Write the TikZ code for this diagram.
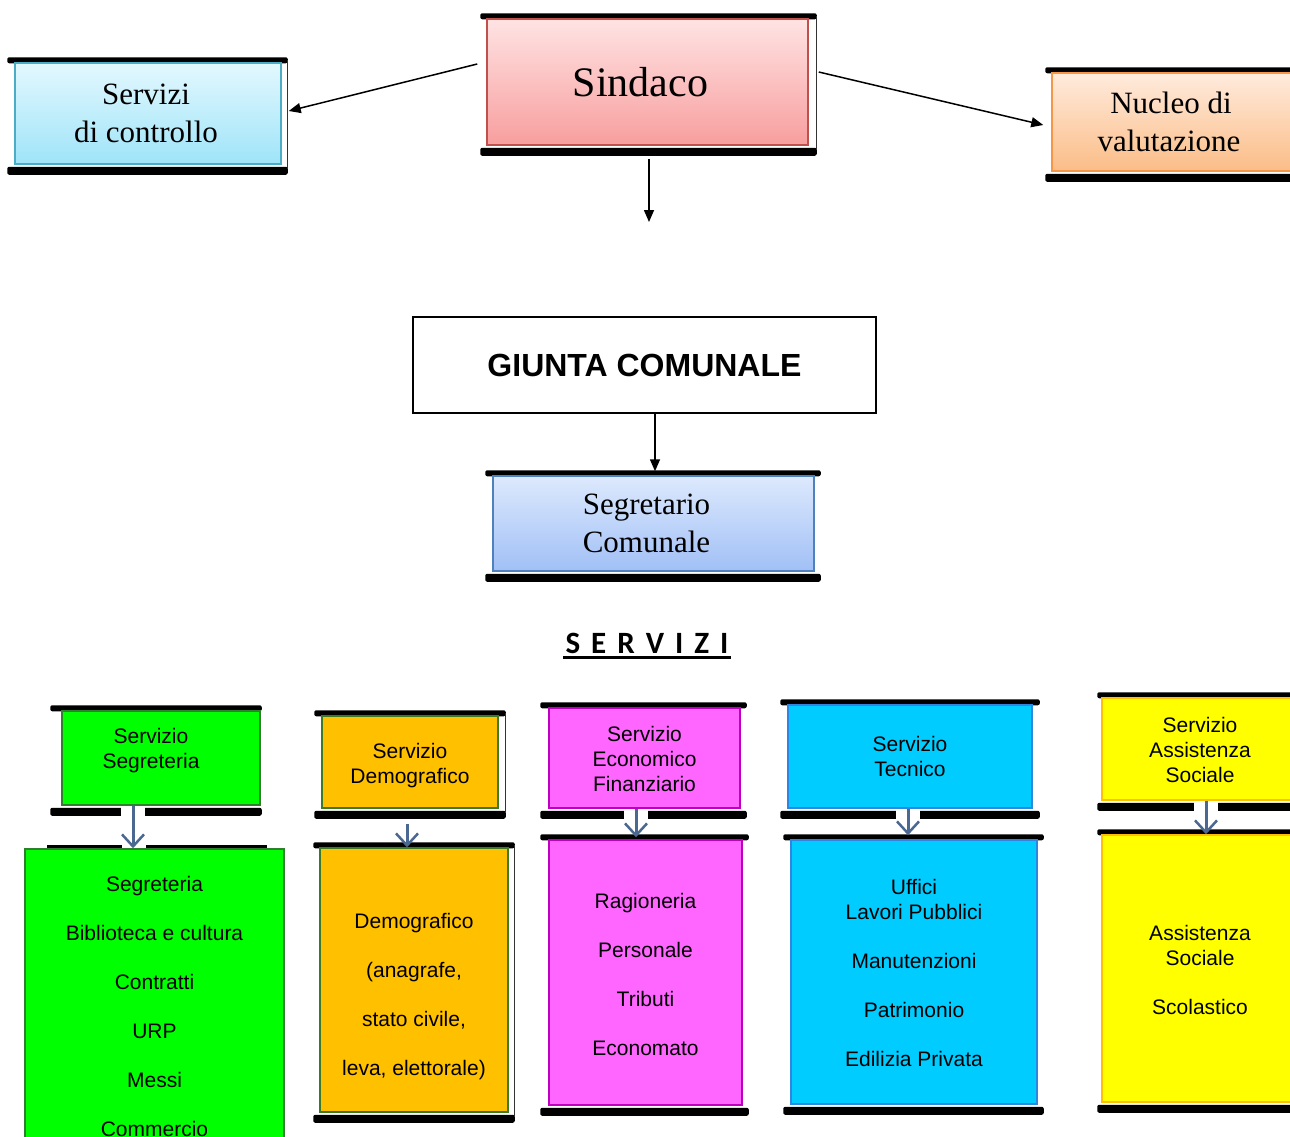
\documentclass[tikz,border=0pt]{standalone}
\usepackage{fontspec}
\setmainfont{Liberation Serif}
\newfontfamily\arialf{Liberation Sans}
\newfontfamily\calf{Carlito}
\usetikzlibrary{arrows.meta,backgrounds,calc}
\definecolor{ctrlTop}{HTML}{E3F8FE}
\definecolor{ctrlBot}{HTML}{9FE4F9}
\definecolor{ctrlBd}{HTML}{4BACC6}
\definecolor{sindTop}{HTML}{FFE3E3}
\definecolor{sindBot}{HTML}{F89E9E}
\definecolor{sindBd}{HTML}{C0504D}
\definecolor{nucTop}{HTML}{FFEBDD}
\definecolor{nucBot}{HTML}{FBBD87}
\definecolor{nucBd}{HTML}{F79646}
\definecolor{segTop}{HTML}{DDE9FD}
\definecolor{segBot}{HTML}{A1C0F6}
\definecolor{segBd}{HTML}{4F81BD}
\definecolor{gFill}{HTML}{00FF00}
\definecolor{gBd}{HTML}{2F7F2F}
\definecolor{oFill}{HTML}{FFC000}
\definecolor{oBd}{HTML}{3C7A28}
\definecolor{mFill}{HTML}{FF66FF}
\definecolor{mBd}{HTML}{C000C0}
\definecolor{cFill}{HTML}{00CCFF}
\definecolor{cBd}{HTML}{2E86E0}
\definecolor{yFill}{HTML}{FFFF00}
\definecolor{yBd}{HTML}{FFC000}
\definecolor{arrBlue}{HTML}{4A6890}
\newcommand{\barpair}[3]{%
  \begin{pgfonlayer}{background}
  \fill[rounded corners=2pt] ([xshift=-#2,yshift=5pt]#1.north west) rectangle ([xshift=#3,yshift=-1pt]#1.north east);
  \fill[rounded corners=2pt] ([xshift=-#2,yshift=-2pt]#1.south west) rectangle ([xshift=#3,yshift=-10pt]#1.south east);
  \end{pgfonlayer}}
\newcommand{\sideline}[2]{%
  \begin{pgfonlayer}{background}
  \draw[line width=1pt, black!80] ([xshift=#2,yshift=2pt]#1.north east) -- ([xshift=#2,yshift=-4pt]#1.south east);
  \end{pgfonlayer}}
\newcommand{\gapat}[2]{%
  \fill[white] ([xshift=#2-12pt,yshift=-1pt]#1.south) rectangle ([xshift=#2+12pt,yshift=-11pt]#1.south);}
\tikzset{
  box/.style={draw, line width=1.5pt, inner sep=0pt, align=center},
  serifbig/.style={font=\fontsize{31}{38}\selectfont},
  stxt/.style={font=\arialf\fontsize{21}{25}\selectfont, align=center, inner sep=0pt},
  blk/.style={-{Triangle[length=12pt,width=10pt]}, line width=1.5pt},
  blu/.style={draw=arrBlue, line width=3pt, -{Straight Barb[length=12pt,width=22pt,line width=2.5pt]}}
}
\begin{document}
\begin{tikzpicture}[x=1pt,y=-1pt]
\useasboundingbox (0,0) rectangle (1290,1136);
% ---------- top row
\node[box, draw=ctrlBd, top color=ctrlTop, bottom color=ctrlBot, minimum width=266pt, minimum height=101pt, serifbig] (ctrl) at (148,113.5) {Servizi\kern4pt\\di controllo\kern4pt};
\node[box, draw=sindBd, top color=sindTop, bottom color=sindBot, minimum width=321pt, minimum height=126pt, font=\fontsize{42}{50}\selectfont] (sind) at (647.5,82) {Sindaco\kern14pt};
\node[box, draw=nucBd, top color=nucTop, bottom color=nucBot, minimum width=240pt, minimum height=98pt, serifbig] (nuc) at (1172,122) {Nucleo di\kern2pt\\valutazione\kern6pt};
\barpair{ctrl}{7pt}{6pt}\sideline{ctrl}{5.5pt}
\barpair{sind}{6pt}{8pt}\sideline{sind}{7.5pt}
\barpair{nuc}{6pt}{6pt}
\draw[blk] ([xshift=-9pt,yshift=18pt]sind.west) -- ([xshift=7pt,yshift=2.5pt]ctrl.east);
\draw[blk] ([xshift=10pt,yshift=10pt]sind.east) -- ([xshift=-8pt,yshift=-3pt]nuc.west);
\coordinate (sdown) at (649,222);
\draw[blk] ([xshift=1.5pt,yshift=-13pt]sind.south) -- (sdown);
% ---------- giunta / segretario
\node[draw, line width=2pt, minimum width=463pt, minimum height=96pt, inner sep=0pt, font=\arialf\bfseries\fontsize{32}{38}\selectfont] (giunta) at (644.5,365) {\raisebox{-2pt}{GIUNTA COMUNALE}};
\node[box, draw=segBd, top color=segTop, bottom color=segBot, minimum width=321pt, minimum height=95pt, serifbig] (segr) at (653.5,523.5) {Segretario\kern14pt\\Comunale\kern14pt};
\barpair{segr}{7pt}{6pt}
\draw[blk] ([xshift=10.5pt]giunta.south) -- ([xshift=1.5pt,yshift=4pt]segr.north);
% ---------- servizi title
\node[inner sep=0pt, font=\calf\bfseries\fontsize{31}{36}\selectfont] (serv) at (647,643) {S\hspace{11pt}E\hspace{11pt}R\hspace{11pt}V\hspace{11pt}I\hspace{11pt}Z\hspace{11pt}I};
\draw[line width=3pt] ([xshift=-2pt,yshift=-4.5pt]serv.base west) -- ([xshift=2pt,yshift=-4.5pt]serv.base east);
% ---------- service boxes
\node[box, draw=gBd, fill=gFill, minimum width=198pt, minimum height=94pt] (sA) at (161,758) {};
\node[box, draw=oBd, fill=oFill, minimum width=176pt, minimum height=92pt] (sB) at (410,762) {};
\node[box, draw=mBd, fill=mFill, minimum width=191pt, minimum height=100pt] (sC) at (644.5,758) {};
\node[box, draw=cBd, fill=cFill, minimum width=244pt, minimum height=103pt] (sD) at (910,756.5) {};
\node[box, draw=yBd, fill=yFill, minimum width=190pt, minimum height=102pt] (sE) at (1197,749) {};
\barpair{sA}{11pt}{1pt}
\barpair{sB}{7pt}{7pt}\sideline{sB}{6.5pt}
\barpair{sC}{8pt}{6pt}
\barpair{sD}{7pt}{7pt}
\barpair{sE}{4pt}{4pt}
\node[stxt] (sAt) at ([xshift=-10pt,yshift=7.5pt]sA.center) {Servizio\\Segreteria};
\node[stxt] (sBt) at ([yshift=-3.5pt]sB.center) {Servizio\\Demografico};
\node[stxt] (sCt) at ([yshift=-0.5pt]sC.center) {Servizio\\Economico\\Finanziario};
\node[stxt] (sDt) at (sD.center) {Servizio\\Tecnico};
\node[stxt] (sEt) at ([xshift=3pt,yshift=-0.5pt]sE.center) {Servizio\\Assistenza\\Sociale};
% ---------- list boxes
\node[box, draw=gBd, fill=gFill, minimum width=259pt, minimum height=301pt] (lA) at (154.5,999.5) {};
\node[box, draw=oBd, fill=oFill, minimum width=188pt, minimum height=264pt] (lB) at (414,980) {};
\node[box, draw=mBd, fill=mFill, minimum width=193pt, minimum height=265pt] (lC) at (645.5,972.5) {};
\node[box, draw=cBd, fill=cFill, minimum width=246pt, minimum height=264pt] (lD) at (914,972) {};
\node[box, draw=yBd, fill=yFill, minimum width=190pt, minimum height=267pt] (lE) at (1197,968.5) {};
\begin{pgfonlayer}{background}
\draw[line width=3pt] ([xshift=23pt,yshift=2pt]lA.north west) -- ([xshift=-18pt,yshift=2pt]lA.north east);
\end{pgfonlayer}
\barpair{lB}{6pt}{6pt}\sideline{lB}{5.5pt}
\barpair{lC}{8pt}{6pt}
\barpair{lD}{7pt}{6pt}
\barpair{lE}{4pt}{4pt}
\node[stxt] (lAt) at ([yshift=-6.5pt]lA.center) {Segreteria\\[24pt]Biblioteca e cultura\\[24pt]Contratti\\[24pt]URP\\[24pt]Messi\\[24pt]Commercio};
\node[stxt] (lBt) at ([yshift=-16.5pt]lB.center) {Demografico\\[24pt](anagrafe,\\[24pt]stato civile,\\[24pt]leva, elettorale)};
\node[stxt] (lCt) at ([yshift=-2pt]lC.center) {Ragioneria\\[24pt]Personale\\[24pt]Tributi\\[24pt]Economato};
\node[stxt] (lDt) at ([yshift=-1pt]lD.center) {Uffici\\Lavori Pubblici\\[24pt]Manutenzioni\\[24pt]Patrimonio\\[24pt]Edilizia Privata};
\node[stxt] (lEt) at ([xshift=3pt,yshift=-1pt]lE.center) {Assistenza\\Sociale\\[24pt]Scolastico};
% ---------- connectors service -> list
\gapat{sA}{-28pt}
\gapat{sC}{-8.5pt}
\gapat{sD}{-2pt}
\gapat{sE}{9pt}
\fill[white] ([xshift=-33pt,yshift=4pt]lA.north) rectangle ([xshift=-9pt,yshift=0pt]lA.north);
\draw[blu] ([xshift=-28pt]sA.south) -- ([xshift=-28pt]sA.south |- lA.north);
\draw[blu] ([xshift=-3pt,yshift=-15pt]sB.south) -- ([xshift=-3pt]sB.south |- lB.north);
\draw[blu] ([xshift=-8.5pt]sC.south) -- ([xshift=-8.5pt,yshift=2pt]sC.south |- lC.north);
\draw[blu] ([xshift=-2pt]sD.south) -- ([xshift=-2pt,yshift=4pt]sD.south |- lD.north);
\draw[blu] ([xshift=9pt]sE.south) -- ([xshift=9pt]sE.south |- lE.north);
\end{tikzpicture}
\end{document}
